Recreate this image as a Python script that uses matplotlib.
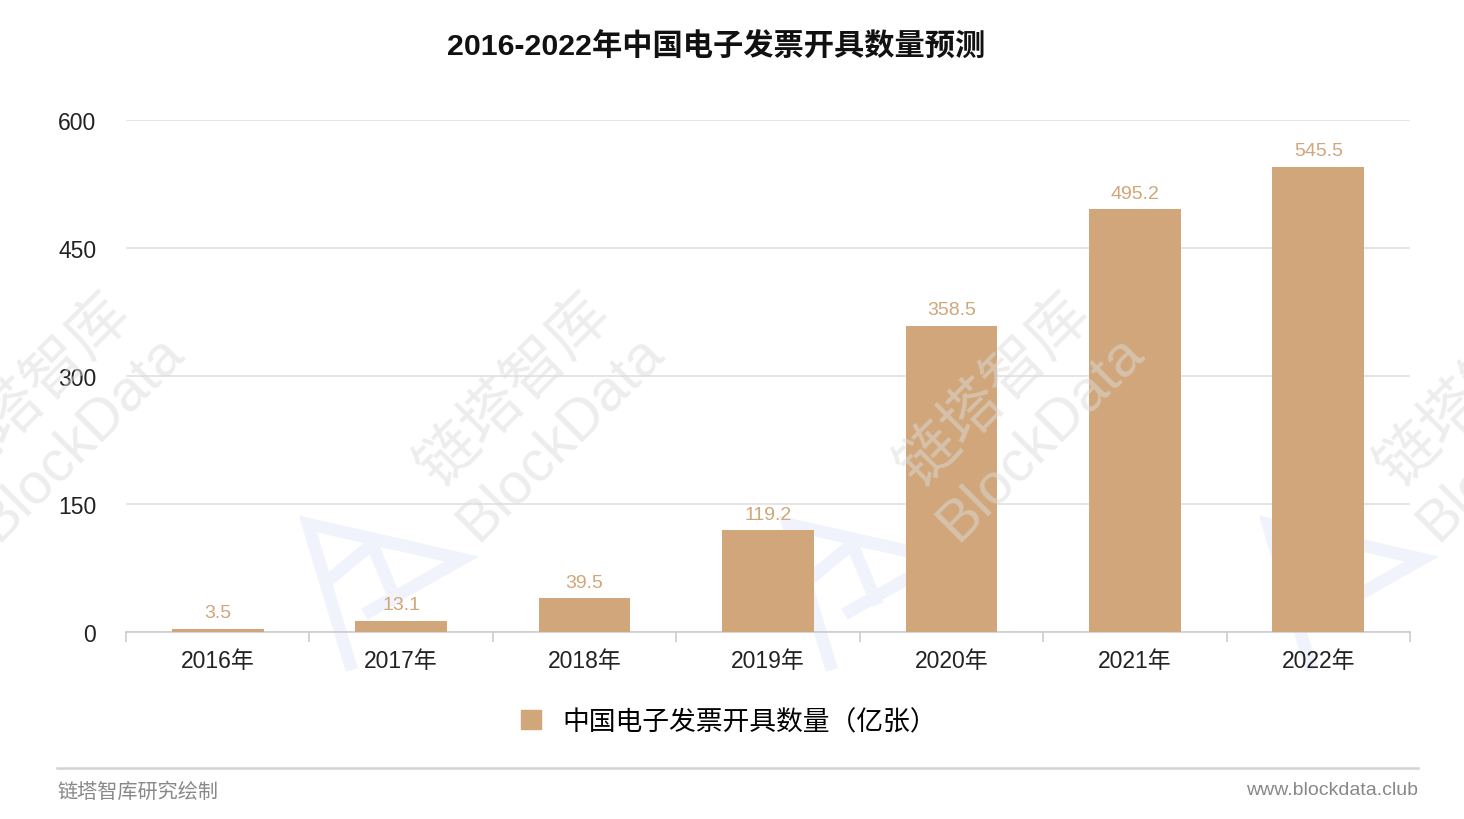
import matplotlib
matplotlib.use("Agg")
import matplotlib.pyplot as plt
from matplotlib.patches import Patch
from matplotlib.lines import Line2D

years = ["2016年", "2017年", "2018年", "2019年", "2020年", "2021年", "2022年"]
counts = [3.5, 13.1, 39.5, 119.2, 358.5, 495.2, 545.5]
yticks = [0, 150, 300, 450, 600]
series_name = "中国电子发票开具数量（亿张）"
title = "2016-2022年中国电子发票开具数量预测"

fam = ["Liberation Sans", "Noto Sans CJK SC", "DejaVu Sans"]
plt.rcParams['font.family'] = fam
bar_c = "#D0A67A"
W, H = 1464, 820

def px(x, y):
    return x / W, 1 - y / H

fig = plt.figure(figsize=(W/100, H/100), dpi=100)
ax = fig.add_axes([126/W, 1-633/H, (1410-126)/W, (633-121)/H])

# logo shapes, very faint blue, behind everything
for dx in [0, 480, 960]:
    pts = [(350+dx, 665), (308+dx, 525), (462+dx, 560), (370+dx, 612)]
    xs, ys = zip(*[px(a, b) for a, b in pts])
    fig.add_artist(Line2D(xs, ys, color="#f1f3fc", lw=9, solid_joinstyle='miter', zorder=-5))
    pts2 = [(330+dx, 580), (372+dx, 545), (395+dx, 600)]
    xs, ys = zip(*[px(a, b) for a, b in pts2])
    fig.add_artist(Line2D(xs, ys, color="#f1f3fc", lw=9, solid_joinstyle='miter', zorder=-5))

x = range(len(years))
ax.bar(x, counts, width=0.5, color=bar_c, zorder=3)
for i, v in zip(x, counts):
    ax.annotate(f"{v}", (i, v), xytext=(0, 5.5), textcoords='offset points',
                ha='center', va='bottom', fontsize=14, color=bar_c)

ax.set_xlim(-0.5, len(years)-0.5)
ax.set_ylim(0, 600)
ax.set_yticks(yticks)
ax.set_yticklabels([str(t) for t in yticks], fontsize=16.5)
ax.set_xticks(list(x))
ax.set_xticklabels(years, fontsize=16.5)
ax.set_xticks([i-0.5 for i in range(len(years)+1)], minor=True)
ax.tick_params(axis='y', length=0, pad=21.5, colors='#222222')
ax.tick_params(axis='x', which='major', length=0, pad=12, colors='#222222')
ax.tick_params(axis='x', which='minor', length=7, width=1.2, color='#cccccc')
ax.grid(axis='y', color='#e0e0e0', lw=1.2, zorder=0)
for s in ['left', 'right', 'top']:
    ax.spines[s].set_visible(False)
ax.spines['bottom'].set_color('#cccccc')
ax.spines['bottom'].set_linewidth(1.2)
ax.set_facecolor('none')

# text watermarks, semi-transparent so the bars show through
for cx in [35, 515, 995, 1475]:
    fig.text(*px(cx, 392), "链塔智库", fontsize=44, color="#dcdcdc", alpha=0.5,
             rotation=45, ha='center', va='center', zorder=10)
    fig.text(*px(cx+45, 438), "BlockData", fontsize=42, color="#dcdcdc", alpha=0.5,
             rotation=45, ha='center', va='center', zorder=10)

fig.text(*px(716, 47), title, fontsize=21.8, fontweight='bold', ha='center', va='center', color='#111111')

fig.legend(handles=[Patch(color=bar_c, label=series_name)], loc='center',
           bbox_to_anchor=px(729, 723), frameon=False, fontsize=19.3,
           handlelength=0.75, handleheight=0.75, handletextpad=0.8)

fig.add_artist(Line2D([57/W, 1418/W], [1-769/H]*2, color='#d2d2d8', lw=1.8))
fig.text(*px(57, 792), "链塔智库研究绘制", fontsize=14.5, color='#888888', ha='left', va='center')
fig.text(*px(1418, 791), "www.blockdata.club", fontsize=14, color='#888888', ha='right', va='center')

fig.savefig("out.png", dpi=100, facecolor='white')
